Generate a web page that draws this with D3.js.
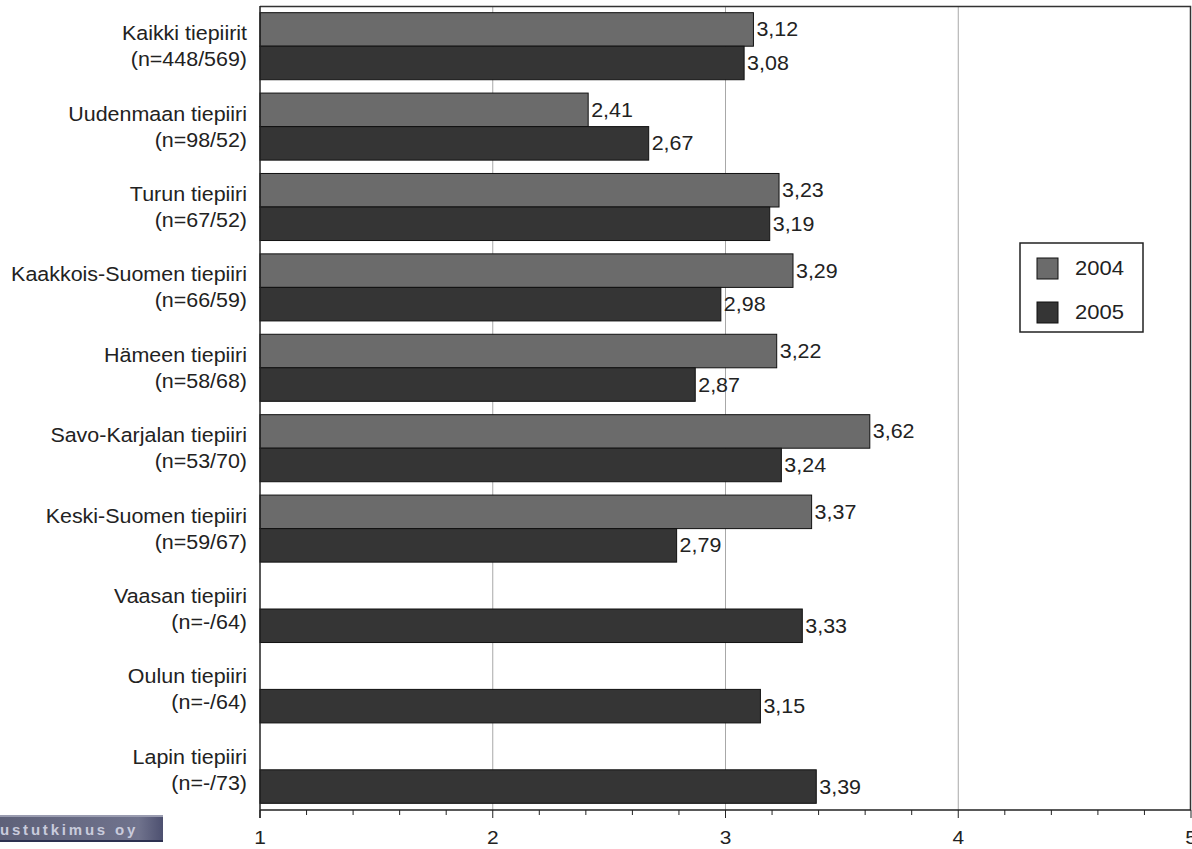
<!DOCTYPE html>
<html><head><meta charset="utf-8">
<script src="https://cdn.jsdelivr.net/npm/d3@7"></script>
<style>body{margin:0;background:#fff;}svg{display:block;font-family:Arial,"Liberation Sans",sans-serif;}</style>
</head><body><svg id="c" width="1192" height="849"></svg>
<script>
const categories = ["Kaikki tiepiirit","Uudenmaan tiepiiri","Turun tiepiiri","Kaakkois-Suomen tiepiiri","Hämeen tiepiiri","Savo-Karjalan tiepiiri","Keski-Suomen tiepiiri","Vaasan tiepiiri","Oulun tiepiiri","Lapin tiepiiri"];
const sampleLabels = ["(n=448/569)","(n=98/52)","(n=67/52)","(n=66/59)","(n=58/68)","(n=53/70)","(n=59/67)","(n=-/64)","(n=-/64)","(n=-/73)"];
const values2004 = [3.12,2.41,3.23,3.29,3.22,3.62,3.37,null,null,null];
const values2005 = [3.08,2.67,3.19,2.98,2.87,3.24,2.79,3.33,3.15,3.39];
const seriesNames = ["2004","2005"];
const tickValues = [1,2,3,4,5];

const svg = d3.select("#c");
const L=260, R=1191, T=6, B=810;
const FS = 19.5, SX = 1.1;
const x = d3.scaleLinear().domain([1,5]).range([L,R]);
const y = d3.scaleBand().domain(categories).range([T,B]).paddingInner(0.166).paddingOuter(0.083);
const ySub = d3.scaleBand().domain(seriesNames).range([0,y.bandwidth()]);
const colors = {"2004":"#6b6b6b","2005":"#353535"};

function txt(g, px, py, s, anchor, fs){
  return g.append("text").attr("transform",`translate(${px},${py}) scale(${SX},1)`)
    .attr("dy","0.36em").attr("text-anchor",anchor||"start").attr("font-size",fs||FS).attr("fill","#222").text(s);
}

// grid
svg.append("g").selectAll("line").data(tickValues.filter(v=>v>1&&v<5)).join("line")
  .attr("x1",d=>x(d)).attr("x2",d=>x(d)).attr("y1",T).attr("y2",B)
  .attr("stroke","#a8a8a8").attr("stroke-width",1);

// frame top/right
svg.append("path").attr("d",`M${L},${T+0.5}H${R-0.5}V${B}`).attr("fill","none").attr("stroke","#333").attr("stroke-width",1.5);

const fmt = v => v.toFixed(2).replace(".",",");
const data = [];
categories.forEach((c,i)=>{
  if(values2004[i]!=null) data.push({c,s:"2004",v:values2004[i]});
  if(values2005[i]!=null) data.push({c,s:"2005",v:values2005[i]});
});
const bars = svg.append("g");
bars.selectAll("rect").data(data).join("rect")
  .attr("x",x(1)).attr("y",d=>y(d.c)+ySub(d.s))
  .attr("width",d=>x(d.v)-x(1)).attr("height",ySub.bandwidth())
  .attr("fill",d=>colors[d.s]).attr("stroke","#111").attr("stroke-width",1);
const vl = svg.append("g");
data.forEach(d=>txt(vl, x(d.v)+3, y(d.c)+ySub(d.s)+ySub.bandwidth()/2, fmt(d.v)));

// category labels
const cl = svg.append("g");
categories.forEach((c,i)=>{
  const cy = y(c)+y.bandwidth()/2;
  txt(cl, 247, cy-13, c, "end");
  txt(cl, 247, cy+13, sampleLabels[i], "end");
});

// left axis line
svg.append("line").attr("x1",L).attr("x2",L).attr("y1",T).attr("y2",B+8).attr("stroke","#222").attr("stroke-width",1.5);

// x axis
const minor = d3.range(1,5.001,0.2).map(v=>+v.toFixed(1));
const ax = svg.append("g").attr("transform",`translate(0,${B})`);
ax.append("line").attr("x1",L).attr("x2",R).attr("stroke","#222").attr("stroke-width",1.5);
ax.selectAll("line.m").data(minor).join("line").attr("class","m")
  .attr("x1",d=>x(d)).attr("x2",d=>x(d)).attr("y1",0)
  .attr("y2",d=>Number.isInteger(d)?8:5).attr("stroke","#222").attr("stroke-width",1);
tickValues.forEach(v=>txt(ax, x(v), 27, String(v), "middle", 19));

// legend
const lg = svg.append("g").attr("transform","translate(1020,243)");
lg.append("rect").attr("width",123).attr("height",89).attr("fill","#fff").attr("stroke","#222").attr("stroke-width",1.5);
seriesNames.forEach((s,i)=>{
  lg.append("rect").attr("x",17).attr("y",15+i*44).attr("width",21).attr("height",21)
    .attr("fill",colors[s]).attr("stroke","#111");
  txt(lg, 55, 25+i*44, s, "start", 20);
});

// logo fragment
const defs = svg.append("defs");
const gr = defs.append("linearGradient").attr("id","lg").attr("x1",0).attr("x2",1);
gr.append("stop").attr("offset",0).attr("stop-color","#5e6179");
gr.append("stop").attr("offset",0.85).attr("stop-color","#70738d");
gr.append("stop").attr("offset",1).attr("stop-color","#4d5070");
svg.append("rect").attr("x",0).attr("y",815).attr("width",163).attr("height",26).attr("fill","url(#lg)");
svg.append("line").attr("x1",0).attr("x2",163).attr("y1",816).attr("y2",816).attr("stroke","#9a9cb0").attr("stroke-width",2);
svg.append("line").attr("x1",0).attr("x2",163).attr("y1",841).attr("y2",841).attr("stroke","#2d3050").attr("stroke-width",2);
svg.append("text").attr("x",0).attr("y",835).attr("font-size",15).attr("font-weight","bold")
  .attr("fill","#c9cbdc").attr("letter-spacing",2.8).text("ustutkimus oy");
</script></body></html>
